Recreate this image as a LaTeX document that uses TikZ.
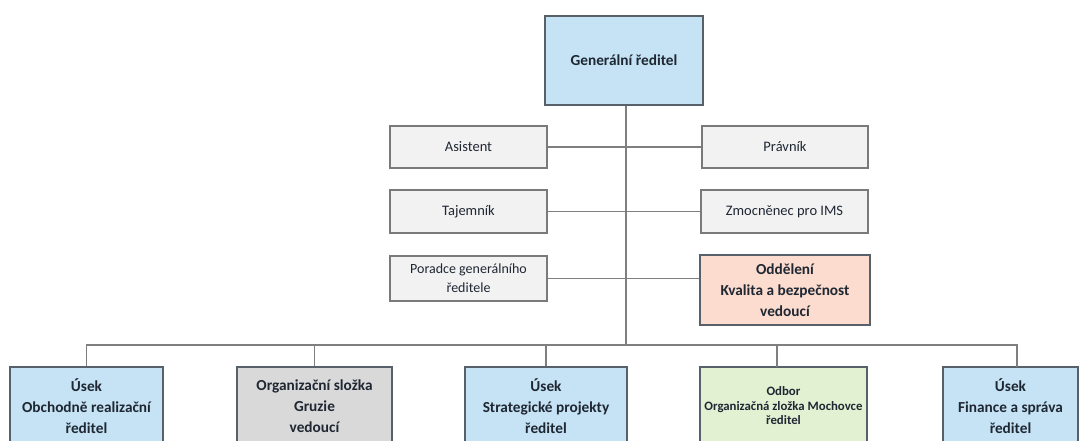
\documentclass[tikz,border=0pt]{standalone}
\usepackage{fontspec}
\setmainfont{Carlito}
\usetikzlibrary{calc}
\definecolor{blueF}{HTML}{C5E3F4}
\definecolor{grayF}{HTML}{F2F2F2}
\definecolor{peachF}{HTML}{FBDCCF}
\definecolor{gruzF}{HTML}{D9D9D9}
\definecolor{greenF}{HTML}{E3F1D3}
\definecolor{bordD}{HTML}{58606A}
\definecolor{bordL}{HTML}{7A7A7A}
\definecolor{lineC}{HTML}{7F7F7F}
\definecolor{txt}{HTML}{1F2733}
\tikzset{
  box/.style={draw=bordL, line width=1.3pt, fill=grayF, inner sep=0pt, align=center,
    text=txt, font=\fontsize{14.5}{19}\selectfont},
  bigbox/.style={draw=bordD, line width=1.6pt, inner sep=0pt, align=center,
    text=txt, font=\fontsize{15.3}{21}\selectfont\bfseries},
  conn/.style={draw=lineC, line width=1.1pt}
}
\begin{document}
\begin{tikzpicture}[x=1pt,y=-1pt]
\useasboundingbox (0,0) rectangle (1080,440);
\clip (0,0) rectangle (1080,440);
% top
\node[bigbox, fill=blueF, minimum width=158pt, minimum height=89pt] (gd) at (624,60.5) {Generální ředitel};
% left column
\node[box, minimum width=157pt, minimum height=42pt] (asi) at (468.5,147) {Asistent};
\node[box, minimum width=157pt, minimum height=43pt] (taj) at (468.5,211.5) {Tajemník};
\node[box, minimum width=157pt, minimum height=45pt, font=\fontsize{14}{19}\selectfont] (por) at (468.5,278.5) {Poradce generálního\\ředitele};
% right column
\node[box, minimum width=166pt, minimum height=42pt] (prav) at (785,147) {Právník};
\node[box, minimum width=167pt, minimum height=43pt] (zmo) at (784.5,211.5) {Zmocněnec pro IMS};
\node[bigbox, fill=peachF, minimum width=170pt, minimum height=70pt] (odd) at (785,290) {Oddělení\\Kvalita a bezpečnost\\vedoucí};
% bottom row
\node[bigbox, fill=blueF, minimum width=153pt, minimum height=78pt] (b1) at (86.5,406) {Úsek\\Obchodně realizační\\ředitel};
\node[bigbox, fill=gruzF, minimum width=155pt, minimum height=78pt] (b2) at (314.5,406) {Organizační složka\\Gruzie\\vedoucí};
\node[bigbox, fill=blueF, minimum width=162pt, minimum height=78pt] (b3) at (546,406) {Úsek\\Strategické projekty\\ředitel};
\node[bigbox, fill=greenF, minimum width=167pt, minimum height=78pt, font=\fontsize{12.8}{14.5}\selectfont\bfseries] (b4) at (783.5,406) {Odbor\\Organizačná zložka Mochovce\\ředitel};
\node[bigbox, fill=blueF, minimum width=135pt, minimum height=78pt] (b5) at (1010.5,406) {Úsek\\Finance a správa\\ředitel};
% connectors
\coordinate (bus) at (626,345);
\coordinate (d4) at (777,367);
\coordinate (d5) at (1017,367);
\draw[conn] (gd.south -| bus) -- (bus);
\draw[conn] (asi.east) -- (prav.west);
\draw[conn] (taj.east) -- (zmo.west);
\draw[conn] (por.east) -- (por.east -| odd.west);
\draw[conn] (b1.north) |- (bus) -| (d5);
\draw[conn] (b2.north) -- (b2.north |- bus);
\draw[conn] (b3.north) -- (b3.north |- bus);
\draw[conn] (d4) -- (d4 |- bus);
\end{tikzpicture}
\end{document}
